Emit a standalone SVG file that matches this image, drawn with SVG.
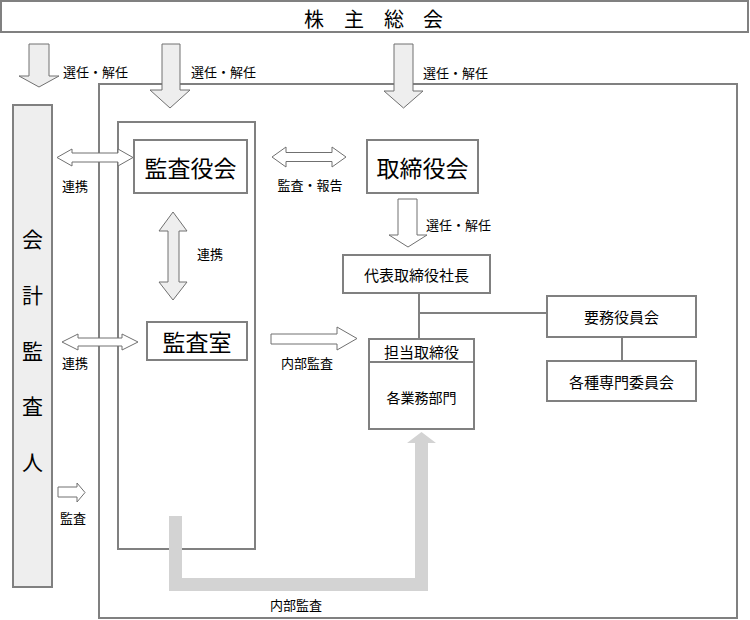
<svg xmlns="http://www.w3.org/2000/svg" width="750" height="620" viewBox="0 0 750 620">
<style>
  .box { fill: #ffffff; stroke: #808080; stroke-width: 2; }
  .frame { fill: none; stroke: #808080; stroke-width: 2; }
  .ln { fill: none; stroke: #808080; stroke-width: 2; }
  .arw { fill: #ffffff; stroke: #707070; stroke-width: 1; }
  .arwg { fill: #eeeeee; stroke: #707070; stroke-width: 1; }
  .big { fill: #d3d3d3; stroke: none; }
  text { font-family: "Noto Sans CJK JP", "Noto Sans", sans-serif; fill: #000000; dominant-baseline: central; }
  .s { font-size: 13px; }
  .m { font-size: 15px; text-anchor: middle; }
  .l { font-size: 23px; text-anchor: middle; }
  .c { text-anchor: middle; }
</style>
<rect width="750" height="620" fill="#ffffff"/>

<!-- frames -->
<g id="company-frame"><rect class="frame" x="99" y="84" width="638" height="534"/></g>
<g id="audit-column"><rect class="frame" x="118" y="122" width="137" height="427"/></g>

<g id="connectors">
  <!-- selection arrows from shareholders -->
  <polygon class="arwg" points="29,44 49,44 49,76 59,76 39,87 19,76 29,76"/>
  <polygon class="arwg" points="162,44 180,44 180,90 190,90 170,108 150,90 162,90"/>
  <polygon class="arwg" points="394,44 413,44 413,91 423,91 403.5,108 384,91 394,91"/>
  <!-- board to president -->
  <polygon class="arw" points="398,199 417,199 417,235 427,235 408,247 389,235 398,235"/>
  <!-- double arrows -->
  <polygon class="arw" points="57,157.5 72,149 72,153 118,153 118,149 133,157.5 118,166 118,162 72,162 72,166"/>
  <polygon class="arw" points="62,342 78,334 78,338 122,338 122,334 138,342 122,350 122,346 78,346 78,350"/>
  <polygon class="arw" points="272,157 286,147 286,152.5 332,152.5 332,147 346,157 332,167 332,161.5 286,161.5 286,167"/>
  <polygon class="arwg" points="173,212 187,231 179,231 179,282 187,282 173,300 159,282 168,282 168,231 159,231"/>
  <!-- internal audit arrow -->
  <polygon class="arw" points="271,334 337,334 337,327 357,338.5 337,350 337,344 271,344"/>
  <!-- audit arrow -->
  <polygon class="arw" points="58,487 77,487 77,483 85,492.5 77,502 77,497 58,497"/>
  <!-- org lines -->
  <line class="ln" x1="419" y1="293" x2="419" y2="339"/>
  <line class="ln" x1="419" y1="313" x2="547" y2="313"/>
  <line class="ln" x1="622" y1="337" x2="622" y2="361"/>
  <!-- big internal audit arrow -->
  <polygon class="big" points="169,516 182,516 182,578 415,578 415,443 407,443 421.5,432 436,443 428,443 428,591 169,591"/>
</g>

<g id="shareholders">
  <rect class="box" x="1" y="1" width="747" height="31"/>
  <text x="304 324 344 364 384 404 423" y="18" style="font-size:20px" xml:space="preserve">株 主 総 会</text>
</g>

<g id="accounting-auditor">
  <rect x="13" y="105" width="39" height="482" fill="#eeeeee" stroke="#808080" stroke-width="2"/>
  <text class="c" x="32.5" y="238" style="font-size:21px">会</text>
  <text class="c" x="32.5" y="294" style="font-size:21px">計</text>
  <text class="c" x="32.5" y="350" style="font-size:21px">監</text>
  <text class="c" x="32.5" y="405" style="font-size:21px">査</text>
  <text class="c" x="32.5" y="461" style="font-size:21px">人</text>
</g>

<g id="audit-board">
  <rect class="box" x="134" y="140" width="113" height="53"/>
  <text class="l" x="190.5" y="166.5">監査役会</text>
</g>

<g id="audit-office">
  <rect class="box" x="147" y="322" width="100" height="38"/>
  <text class="l" x="197" y="341">監査室</text>
</g>

<g id="board">
  <rect class="box" x="367" y="140" width="111" height="53"/>
  <text class="l" x="422.5" y="166.5">取締役会</text>
</g>

<g id="president">
  <rect class="box" x="343" y="255" width="147" height="38"/>
  <text class="m" x="416.5" y="274">代表取締役社長</text>
</g>

<g id="executive-committee">
  <rect class="box" x="547" y="296" width="149" height="41"/>
  <text class="m" x="621.5" y="316.5">要務役員会</text>
</g>

<g id="special-committees">
  <rect class="box" x="547" y="361" width="149" height="40"/>
  <text class="m" x="621.5" y="381">各種専門委員会</text>
</g>

<g id="departments">
  <rect class="box" x="369" y="339" width="105" height="90"/>
  <line class="ln" x1="369" y1="362" x2="474" y2="362"/>
  <text class="m" x="421.5" y="351">担当取締役</text>
  <text class="m" x="421.5" y="397" style="font-size:14px">各業務部門</text>
</g>

<g id="labels">
  <text class="s" x="63" y="71">選任・解任</text>
  <text class="s" x="191" y="71">選任・解任</text>
  <text class="s" x="423" y="72">選任・解任</text>
  <text class="s" x="426" y="224">選任・解任</text>
  <text class="s" x="62" y="185">連携</text>
  <text class="s c" x="310" y="184">監査・報告</text>
  <text class="s" x="197" y="253">連携</text>
  <text class="s" x="62" y="362">連携</text>
  <text class="s" x="281" y="362">内部監査</text>
  <text class="s" x="60" y="517">監査</text>
  <text class="s c" x="296" y="604">内部監査</text>
</g>
</svg>
